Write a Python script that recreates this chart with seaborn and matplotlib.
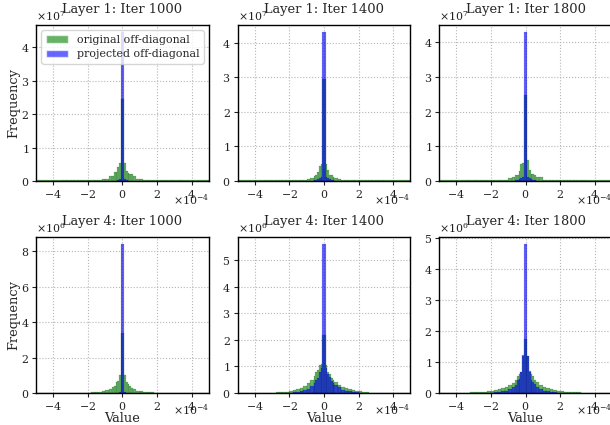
import numpy as np
import matplotlib
matplotlib.use("Agg")
import matplotlib.pyplot as plt
from matplotlib.patches import Patch
import seaborn as sns

# ---------------- data (x in units of 1e-4) ----------------
BIN_EDGES = [-5.0, -3.4, -3.2, -3.0, -2.8, -2.6, -2.4, -2.2, -2.0, -1.8, -1.6,
             -1.4, -1.2, -1.0, -0.8, -0.6, -0.5, -0.4, -0.3, -0.2, -0.1, 0.0,
             0.1, 0.2, 0.3, 0.4, 0.5, 0.6, 0.8, 1.0, 1.2, 1.4, 1.6, 1.8, 2.0,
             2.2, 2.4, 2.6, 2.8, 3.0, 3.2, 3.4, 5.0]
X_UNIT = 1e-4

TITLES = ["Layer 1: Iter 1000", "Layer 1: Iter 1400", "Layer 1: Iter 1800",
          "Layer 4: Iter 1000", "Layer 4: Iter 1400", "Layer 4: Iter 1800"]
ROW_UNITS = [1e7, 1e6]
SERIES_LABELS = ["original off-diagonal", "projected off-diagonal"]

# Layer 1 (counts in units of 1e7)
L1_I1000_ORIG = [0.02, 0.02, 0.02, 0.02, 0.02, 0.02, 0.02, 0.02, 0.02, 0.02, 0.02,
                 0.04, 0.07, 0.07, 0.14, 0.14, 0.27, 0.27, 0.41, 0.53, 2.45, 2.45,
                 0.53, 0.29, 0.25, 0.22, 0.20, 0.14, 0.07, 0.06, 0.03, 0.02, 0.02,
                 0.02, 0.02, 0.02, 0.02, 0.02, 0.02, 0.02, 0.02, 0.02]
L1_I1000_PROJ = [0, 0, 0, 0, 0, 0, 0, 0, 0, 0, 0,
                 0, 0, 0, 0, 0, 0, 0, 0.02, 0.05, 4.45, 4.45,
                 0.05, 0.02, 0, 0, 0, 0, 0, 0, 0, 0, 0,
                 0, 0, 0, 0, 0, 0, 0, 0, 0]

L1_I1400_ORIG = [0.02, 0.02, 0.02, 0.02, 0.02, 0.02, 0.02, 0.02, 0.02, 0.02, 0.02,
                 0.03, 0.04, 0.06, 0.08, 0.13, 0.17, 0.27, 0.43, 0.49, 2.95, 2.95,
                 0.49, 0.32, 0.17, 0.17, 0.12, 0.08, 0.06, 0.03, 0.02, 0.02, 0.02,
                 0.02, 0.02, 0.02, 0.02, 0.02, 0.02, 0.02, 0.02, 0.02]
L1_I1400_PROJ = [0, 0, 0, 0, 0, 0.01, 0.01, 0.01, 0.01, 0.01, 0.01,
                 0.01, 0.01, 0.01, 0.01, 0.02, 0.03, 0.05, 0.08, 0.12, 4.30, 4.30,
                 0.12, 0.08, 0.05, 0.03, 0.02, 0.01, 0.01, 0.01, 0.01, 0.01, 0.01,
                 0.01, 0.01, 0.01, 0.01, 0.01, 0.01, 0.01, 0, 0]

L1_I1800_ORIG = [0.02, 0.02, 0.02, 0.02, 0.02, 0.02, 0.02, 0.02, 0.02, 0.02, 0.02,
                 0.03, 0.04, 0.09, 0.10, 0.17, 0.18, 0.30, 0.50, 0.51, 2.47, 2.47,
                 0.60, 0.32, 0.20, 0.20, 0.18, 0.10, 0.10, 0.04, 0.03, 0.02, 0.02,
                 0.02, 0.02, 0.02, 0.02, 0.02, 0.02, 0.02, 0.02, 0.02]
L1_I1800_PROJ = [0, 0, 0, 0.01, 0.01, 0.01, 0.01, 0.01, 0.01, 0.01, 0.01,
                 0.01, 0.01, 0.01, 0.01, 0.02, 0.03, 0.05, 0.08, 0.12, 4.28, 4.28,
                 0.12, 0.08, 0.05, 0.03, 0.02, 0.01, 0.01, 0.01, 0.01, 0.01, 0.01,
                 0.01, 0.01, 0.01, 0.01, 0.01, 0.01, 0, 0, 0]

# Layer 4 (counts in units of 1e6)
L4_I1000_ORIG = [0, 0, 0, 0, 0, 0, 0, 0, 0, 0.04, 0.06,
                 0.07, 0.11, 0.17, 0.23, 0.36, 0.40, 0.64, 0.66, 1.02, 3.40, 3.40,
                 1.02, 0.64, 0.50, 0.40, 0.28, 0.20, 0.14, 0.10, 0.06, 0.06, 0.05,
                 0, 0, 0, 0, 0, 0, 0, 0, 0]
L4_I1000_PROJ = [0, 0, 0, 0, 0, 0, 0, 0, 0, 0, 0,
                 0, 0, 0, 0, 0, 0, 0, 0, 0.05, 8.38, 8.38,
                 0.05, 0, 0, 0, 0, 0, 0, 0, 0, 0, 0,
                 0, 0, 0, 0, 0, 0, 0, 0, 0]

L4_I1400_ORIG = [0, 0, 0, 0, 0.02, 0.03, 0.04, 0.05, 0.08, 0.10, 0.14,
                 0.20, 0.26, 0.36, 0.50, 0.63, 0.78, 0.85, 1.05, 1.11, 2.20, 2.20,
                 1.05, 0.80, 0.72, 0.57, 0.50, 0.42, 0.30, 0.22, 0.18, 0.15, 0.11,
                 0.07, 0.06, 0.05, 0.02, 0, 0, 0, 0, 0]
L4_I1400_PROJ = [0, 0, 0, 0, 0, 0, 0, 0, 0, 0.02, 0.04,
                 0.06, 0.10, 0.16, 0.25, 0.38, 0.50, 0.57, 0.80, 0.94, 5.60, 5.60,
                 0.95, 0.70, 0.60, 0.44, 0.38, 0.31, 0.21, 0.12, 0.08, 0.06, 0.03,
                 0.02, 0, 0, 0, 0, 0, 0, 0, 0]

L4_I1800_ORIG = [0, 0, 0.02, 0.03, 0.03, 0.03, 0.04, 0.06, 0.08, 0.09, 0.12,
                 0.15, 0.19, 0.25, 0.33, 0.42, 0.54, 0.62, 0.69, 1.21, 1.74, 1.74,
                 1.20, 0.70, 0.60, 0.54, 0.42, 0.36, 0.26, 0.19, 0.15, 0.12, 0.09,
                 0.08, 0.07, 0.04, 0.03, 0.03, 0.03, 0.02, 0.01, 0]
L4_I1800_PROJ = [0, 0, 0, 0, 0, 0, 0, 0, 0, 0.02, 0.04,
                 0.05, 0.08, 0.12, 0.20, 0.26, 0.42, 0.45, 0.69, 1.20, 4.78, 4.78,
                 1.20, 0.69, 0.42, 0.37, 0.30, 0.20, 0.13, 0.08, 0.05, 0.03, 0.02,
                 0, 0, 0, 0, 0, 0, 0, 0, 0]

ORIGINAL = [L1_I1000_ORIG, L1_I1400_ORIG, L1_I1800_ORIG,
            L4_I1000_ORIG, L4_I1400_ORIG, L4_I1800_ORIG]
PROJECTED = [L1_I1000_PROJ, L1_I1400_PROJ, L1_I1800_PROJ,
             L4_I1000_PROJ, L4_I1400_PROJ, L4_I1800_PROJ]
X_TICKS = [-4, -2, 0, 2, 4]

# ---------------- style ----------------
sns.set_style("white")
plt.rcParams["font.family"] = ["DejaVu Serif"]
plt.rcParams["mathtext.fontset"] = "dejavuserif"
plt.rcParams["axes.edgecolor"] = "black"
plt.rcParams["axes.linewidth"] = 1.0
plt.rcParams["xtick.bottom"] = True
plt.rcParams["ytick.left"] = True
plt.rcParams["xtick.color"] = "#222222"
plt.rcParams["ytick.color"] = "#222222"
plt.rcParams["xtick.major.size"] = 3
plt.rcParams["ytick.major.size"] = 3

TITLE_SIZE = 9.4
TICK_SIZE = 7.9
# display-pixel y (from bottom) of the top of the x offset text, per row
OFFSET_Y = [233, 23]

fig = plt.figure(figsize=(6.10, 4.25), dpi=100)
axes = fig.subplots(2, 3)
fig.subplots_adjust(left=36 / 610, right=612 / 610, bottom=1 - 393 / 425,
                    top=1 - 25 / 425, wspace=0.165, hspace=0.36)

edges = [e * X_UNIT for e in BIN_EDGES]
centers = [(a + b) / 2 for a, b in zip(edges[:-1], edges[1:])]

for i, ax in enumerate(axes.flat):
    unit = ROW_UNITS[i // 3]
    orig = [v * unit for v in ORIGINAL[i]]
    proj = [v * unit for v in PROJECTED[i]]
    ax.set_axisbelow(True)
    sns.histplot(x=centers, weights=orig, bins=edges, color="green", alpha=0.6,
                 edgecolor=(0, 0.2, 0, 0.6), linewidth=0.15, ax=ax)
    sns.histplot(x=centers, weights=proj, bins=edges, color="blue", alpha=0.6,
                 edgecolor=(0, 0, 0.3, 0.5), linewidth=0.12, ax=ax)
    ax.set_xlim(-5 * X_UNIT, 5 * X_UNIT)
    ax.set_xticks([t * X_UNIT for t in X_TICKS])
    ax.grid(True, linestyle=":", color="#b5b5b5", linewidth=0.8)
    ax.ticklabel_format(style="sci", axis="both", scilimits=(0, 0), useMathText=True)
    ax.tick_params(labelsize=TICK_SIZE, pad=2)
    ax.xaxis.get_offset_text().set_fontsize(TICK_SIZE)
    ax.yaxis.get_offset_text().set_fontsize(TICK_SIZE)
    # place the x offset text just under the tick labels, as in the reference
    row = i // 3
    ax.xaxis._update_offset_text_position = (lambda b1, b2, _ax=ax, _y=OFFSET_Y[row]:
                                             _ax.xaxis.offsetText.set_position((1, _y)))
    ax.set_title(TITLES[i], fontsize=TITLE_SIZE, y=1.0, pad=9)
    ax.set_ylabel("Frequency" if i % 3 == 0 else "", fontsize=TITLE_SIZE, labelpad=0)
    ax.set_xlabel("Value" if i >= 3 else "", fontsize=TITLE_SIZE, labelpad=0)
    for sp in ax.spines.values():
        sp.set_visible(True)
        sp.set_color("black")

handles = [Patch(facecolor="green", alpha=0.6, label=SERIES_LABELS[0]),
           Patch(facecolor="blue", alpha=0.6, label=SERIES_LABELS[1])]
axes[0, 0].legend(handles=handles, loc="upper left", fontsize=TICK_SIZE,
                  framealpha=0.8, handlelength=2.0, borderpad=0.4,
                  labelspacing=0.4)

fig.savefig("out.png", dpi=100)
